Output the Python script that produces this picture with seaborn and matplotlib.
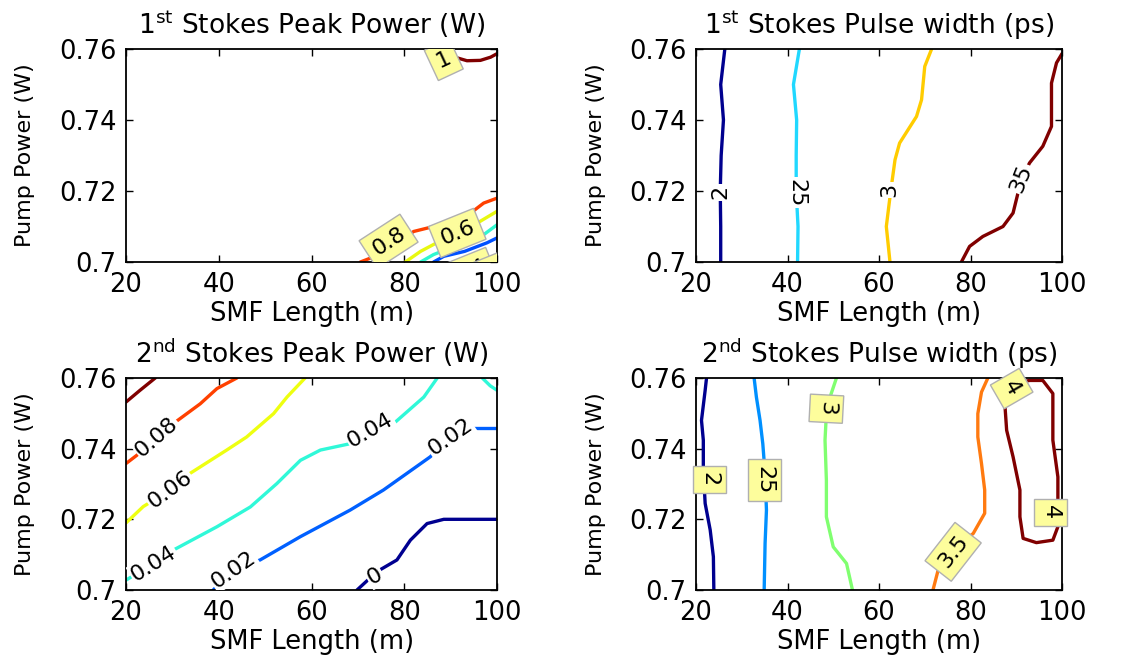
import matplotlib
matplotlib.use('Agg')
import matplotlib.pyplot as plt
import seaborn as sns
import pandas as pd

# ---------------- data ----------------
y_ticks = [0.70, 0.72, 0.74, 0.76]
y_tick_labels = ['0.7', '0.72', '0.74', '0.76']
x_ticks = [20, 40, 60, 80, 100]

# 1st Stokes peak power (W) contours
pp1_levels = ['1', '0.8', '0.6', '0.4', '0.2', '0']
pp1_x = [[86.0, 88.0, 91.4, 93.5, 96.4, 98.6, 100],
         [70.5, 75.5, 82.0, 86.3, 93.5, 97.1, 100],
         [80.2, 83.5, 90.0, 96.4, 100],
         [83.5, 86.3, 92.0, 97.1, 100],
         [86.3, 88.5, 93.0, 97.8, 100],
         [99.0, 100]]
pp1_y = [[0.7600, 0.7590, 0.7575, 0.7567, 0.7568, 0.7577, 0.7587],
         [0.7000, 0.7025, 0.7086, 0.7100, 0.7130, 0.7166, 0.7180],
         [0.7000, 0.7030, 0.7075, 0.7115, 0.7143],
         [0.7000, 0.7021, 0.7050, 0.7077, 0.7105],
         [0.7000, 0.7016, 0.7030, 0.7054, 0.7068],
         [0.7000, 0.7006]]
pp1_lab_text = ['1', '0.8', '0.6', '0.4', '0.2']
pp1_lab_x = [88.5, 76.6, 91.4, 94.0, 96.8]
pp1_lab_y = [0.7570, 0.7058, 0.7082, 0.6972, 0.6958]
pp1_lab_rot = [25, 33, 22, 22, 22]

# 1st Stokes pulse width (ps) contours
pw1_levels = ['2', '2.5', '3', '3.5']
pw1_x = [[25.4, 25.4, 25.3, 25.5, 26.0, 25.4, 26.3],
         [42.2, 42.3, 41.9, 41.9, 42.0, 41.3, 42.6],
         [62.4, 61.6, 62.5, 63.5, 64.5, 68.2, 69.3, 70.0, 71.5],
         [78.0, 79.8, 82.7, 87.1, 89.3, 91.1, 92.9, 95.8, 97.7, 97.7, 98.8, 100]]
pw1_y = [[0.70, 0.71, 0.72, 0.73, 0.74, 0.75, 0.76],
         [0.70, 0.71, 0.72, 0.73, 0.74, 0.75, 0.76],
         [0.70, 0.71, 0.7194, 0.7288, 0.7335, 0.741, 0.7457, 0.7551, 0.76],
         [0.70, 0.7044, 0.7072, 0.7100, 0.7138, 0.7232, 0.7279, 0.7326, 0.7382, 0.7504, 0.7561, 0.7587]]
pw1_lab_text = ['2', '25', '3', '35']
pw1_lab_x = [25.4, 42.0, 62.3, 91.1]
pw1_lab_y = [0.7196, 0.7195, 0.7202, 0.7235]
pw1_lab_rot = [90, -90, 90, 68]

# 2nd Stokes peak power (W) contours (0.04 has two pieces)
pp2_levels = ['0.1', '0.08', '0.06', '0.04', '0.04', '0.02', '0']
pp2_x = [[20, 23.0, 26.3],
         [20, 22.3, 26.6, 30.2, 36.0, 39.6, 43.9],
         [20, 23.7, 29.5, 33.8, 41.7, 46.0, 51.8, 54.7, 58.6],
         [20, 25.9, 30.2, 39.6, 46.8, 52.5, 57.6, 61.9, 68.3, 72.7, 77.7, 84.2, 87.1],
         [96.8, 98.5, 100],
         [38.8, 43.2, 48.9, 57.6, 68.3, 75.5, 85.6, 89.9, 95.0, 100],
         [69.8, 74.1, 78.4, 81.3, 84.9, 88.5, 96.4, 100]]
pp2_y = [[0.7532, 0.7565, 0.76],
         [0.7358, 0.7381, 0.7433, 0.7471, 0.7527, 0.757, 0.76],
         [0.719, 0.7236, 0.7283, 0.733, 0.7396, 0.7433, 0.7499, 0.7546, 0.76],
         [0.7028, 0.7075, 0.7113, 0.7179, 0.7235, 0.7301, 0.7367, 0.7396, 0.7414,
          0.7452, 0.7471, 0.7546, 0.76],
         [0.76, 0.7578, 0.7565],
         [0.70, 0.7057, 0.7085, 0.7151, 0.7226, 0.7283, 0.7377, 0.7433, 0.7457, 0.7457],
         [0.70, 0.7052, 0.7085, 0.7141, 0.7188, 0.72, 0.72, 0.72]]
pp2_lab_text = ['0.08', '0.06', '0.04', '0.04', '0.02', '0.02', '0']
pp2_lab_x = [26.6, 29.5, 25.9, 72.7, 43.2, 89.9, 73.7]
pp2_lab_y = [0.7433, 0.7283, 0.7075, 0.7452, 0.7057, 0.7433, 0.7038]
pp2_lab_rot = [41, 36, 32, 30, 35, 35, 30]

# 2nd Stokes pulse width (ps) contours
pw2_levels = ['2', '2.5', '3', '3.5', '4']
pw2_x = [[23.9, 23.8, 23.1, 22.0, 21.6, 21.6, 21.2, 22.0, 22.3],
         [34.9, 35.1, 35.4, 35.1, 34.6, 34.0, 33.2, 32.7],
         [54.2, 52.9, 50.0, 48.5, 48.5, 48.2, 48.5, 49.3, 50.7],
         [71.8, 73.3, 76.2, 80.6, 83.1, 83.1, 82.4, 81.6, 81.6, 82.4, 83.8],
         [89.3, 92.9, 95.8, 98.0, 98.0, 99.1, 99.1, 99.1, 98.0, 94.4, 91.5,
          90.8, 90.8, 89.3, 87.9, 87.5, 87.9, 89.3]]
pw2_y = [[0.70, 0.7094, 0.717, 0.7245, 0.7339, 0.7424, 0.748, 0.7565, 0.76],
         [0.70, 0.7132, 0.7226, 0.733, 0.7414, 0.748, 0.7546, 0.76],
         [0.70, 0.7075, 0.7122, 0.7207, 0.731, 0.7424, 0.7499, 0.7546, 0.76],
         [0.70, 0.7075, 0.7113, 0.716, 0.7217, 0.7283, 0.7358, 0.7433, 0.7499, 0.756, 0.76],
         [0.7584, 0.7593, 0.7593, 0.7556, 0.7424, 0.732, 0.7235, 0.7179, 0.7141, 0.7134,
          0.7146, 0.7207, 0.7283, 0.7377, 0.7452, 0.7527, 0.7575, 0.7584]]
pw2_lab_text = ['2', '25', '3', '3.5', '4', '4']
pw2_lab_x = [22.9, 34.9, 48.5, 76.2, 89.0, 97.5]
pw2_lab_y = [0.7313, 0.7311, 0.7513, 0.7108, 0.7570, 0.7220]
pw2_lab_rot = [-90, -90, -93, 52, -60, -90]

# MATLAB jet-like colours per level
pp1_colors = {'1': '#800000', '0.8': '#ff4000', '0.6': '#e8f810', '0.4': '#30f8d0',
              '0.2': '#0050ff', '0': '#000090'}
pw1_colors = {'2': '#00008f', '2.5': '#20d8ff', '3': '#ffcc00', '3.5': '#800000'}
pp2_colors = {'0.1': '#800000', '0.08': '#ff4000', '0.06': '#eeff10', '0.04': '#30f8d8',
              '0.02': '#0060ff', '0': '#000090'}
pw2_colors = {'2': '#00008f', '2.5': '#0090ff', '3': '#80ff70', '3.5': '#ff7a10',
              '4': '#800000'}


def to_frame(levels, xs, ys):
    rows = []
    for i, (lv, xx, yy) in enumerate(zip(levels, xs, ys)):
        for a, b in zip(xx, yy):
            rows.append({'x': a, 'y': b, 'level': lv, 'seg': i})
    return pd.DataFrame(rows)


sns.set_style('ticks')
plt.rcParams['font.family'] = ['DejaVu Sans']
plt.rcParams['mathtext.default'] = 'regular'
plt.rcParams['text.color'] = 'black'
plt.rcParams['axes.labelcolor'] = 'black'
plt.rcParams['xtick.color'] = 'black'
plt.rcParams['ytick.color'] = 'black'

fig = plt.figure(figsize=(11.47, 6.57), dpi=100)
fig.patch.set_facecolor('white')

boxed = dict(boxstyle='square,pad=0.3', fc='#fdfd9c', ec='#b0b0b0', lw=1)
plain = dict(boxstyle='square,pad=0.05', fc='white', ec='none')

panels = [
    ([0.1099, 0.6012, 0.3235, 0.3242], r'1$^{st}$ Stokes Peak Power (W)',
     pp1_levels, pp1_x, pp1_y, pp1_colors,
     pp1_lab_text, pp1_lab_x, pp1_lab_y, pp1_lab_rot, boxed, True),
    ([0.6068, 0.6012, 0.3191, 0.3242], r'1$^{st}$ Stokes Pulse width (ps)',
     pw1_levels, pw1_x, pw1_y, pw1_colors,
     pw1_lab_text, pw1_lab_x, pw1_lab_y, pw1_lab_rot, plain, True),
    ([0.1099, 0.1020, 0.3235, 0.3227], r'2$^{nd}$ Stokes Peak Power (W)',
     pp2_levels, pp2_x, pp2_y, pp2_colors,
     pp2_lab_text, pp2_lab_x, pp2_lab_y, pp2_lab_rot, plain, True),
    ([0.6068, 0.1020, 0.3191, 0.3227], r'2$^{nd}$ Stokes Pulse width (ps)',
     pw2_levels, pw2_x, pw2_y, pw2_colors,
     pw2_lab_text, pw2_lab_x, pw2_lab_y, pw2_lab_rot, boxed, False),
]

for (rect, title, levels, xs, ys, pal, lt, lx, ly, lr, bstyle, clip) in panels:
    ax = fig.add_axes(rect)
    df = to_frame(levels, xs, ys)
    sns.lineplot(data=df, x='x', y='y', hue='level', units='seg', estimator=None,
                 sort=False, palette=pal, lw=2.4, legend=False, ax=ax)
    for t, a, b, r in zip(lt, lx, ly, lr):
        ax.text(a, b, t, rotation=r, rotation_mode='anchor', ha='center', va='center',
                fontsize=16, color='black', bbox=bstyle, zorder=5, clip_on=clip)

    ax.set_xlim(20, 100)
    ax.set_ylim(0.70, 0.76)
    ax.set_xticks(x_ticks)
    ax.set_yticks(y_ticks)
    ax.set_yticklabels(y_tick_labels)
    ax.tick_params(direction='in', top=True, right=True, length=5, width=1,
                   labelsize=18.5, pad=7, colors='black')
    for s in ax.spines.values():
        s.set_visible(True)
        s.set_color('black')
        s.set_linewidth(1.3)
    ax.set_facecolor('white')
    ax.set_title(title, fontsize=19, pad=11, color='black')
    ax.set_xlabel('SMF Length (m)', fontsize=18.5)
    ax.set_ylabel('Pump Power (W)', fontsize=16)
    ax.xaxis.set_label_coords(0.5, -0.185)
    ax.xaxis.label.set_va('top')
    ax.yaxis.set_label_coords(-0.245, 0.5)

fig.savefig('out.png', dpi=100, facecolor='white')
